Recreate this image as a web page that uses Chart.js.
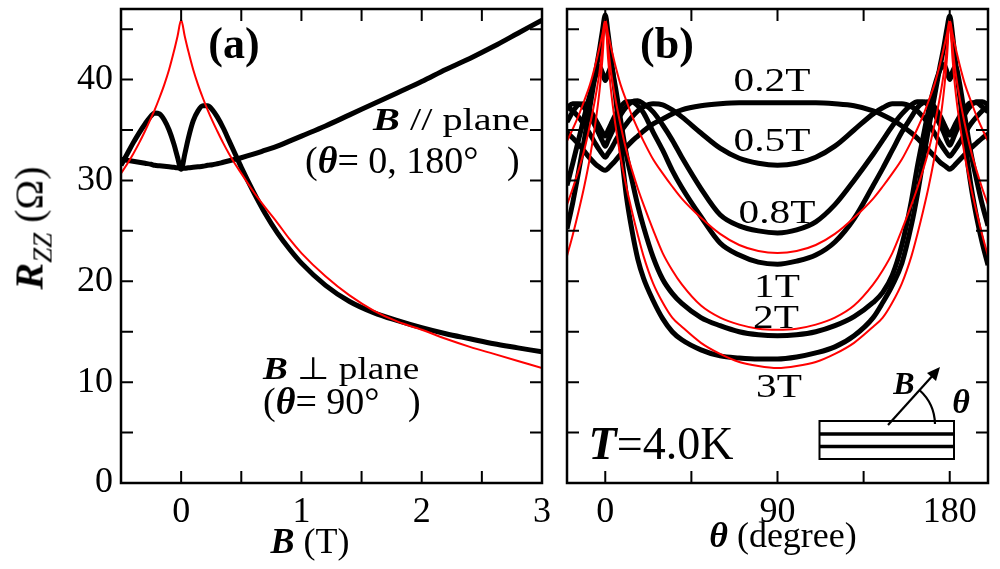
<!DOCTYPE html>
<html lang="en">
<head>
<meta charset="UTF-8">
<title>R_ZZ versus B and theta</title>
<script src="https://cdn.jsdelivr.net/npm/chart.js"></script>
<style>
  body { margin: 0; background: #fff; }
  #wrap { position: relative; width: 1000px; height: 569px; overflow: hidden;
          font-family: 'Liberation Serif', 'Times New Roman', serif; color: #000; }
  canvas { position: absolute; top: 0; }
  #chartA { left: 0; }
  #chartB { left: 555px; }
  .lbl { position: absolute; line-height: 1; white-space: pre; transform: translate(-50%, -50%); }
  .fld { position: absolute; line-height: 1; white-space: pre; font-size: 33px;
         transform: translate(-50%, -50%) scaleX(1.25); }
  .txt { position: absolute; line-height: 1; white-space: pre; transform-origin: left top; }
  .bi { font-weight: bold; font-style: italic; }
</style>
</head>
<body>
<div id="wrap">
  <canvas id="chartA" width="560" height="569"></canvas>
  <canvas id="chartB" width="445" height="569"></canvas>

  <!-- axis titles -->
  <div class="lbl" style="left:33px; top:228px; font-size:40px; transform:translate(-50%,-50%) rotate(-90deg);"><span class="bi">R</span><sub style="font-style:italic; font-size:27px;">ZZ</sub> (Ω)</div>
  <div class="lbl" style="left:310px; top:541px; font-size:36px;"><span class="bi">B</span> (T)</div>
  <div class="lbl" style="left:783px; top:535px; font-size:36px;"><span class="bi">θ</span> (degree)</div>

  <!-- panel (a) notes -->
  <div class="lbl" style="left:234px; top:44px; font-size:44px; font-weight:bold;">(a)</div>
  <div class="txt" style="left:373px; top:104px; font-size:31px; transform:scaleX(1.3);"><span class="bi">B</span> // plane</div>
  <div class="txt" style="left:305px; top:141px; font-size:38px;">(<span class="bi">θ</span>= 0, 180°   )</div>
  <div class="txt" style="left:263px; top:353px; font-size:31px; transform:scaleX(1.2);"><span class="bi">B</span> ⊥ plane</div>
  <div class="txt" style="left:263px; top:382px; font-size:38px;">(<span class="bi">θ</span>= 90°   )</div>

  <!-- panel (b) notes -->
  <div class="lbl" style="left:667px; top:44px; font-size:44px; font-weight:bold;">(b)</div>
  <div class="fld" style="left:772px; top:80px;">0.2T</div>
  <div class="fld" style="left:772px; top:140px;">0.5T</div>
  <div class="fld" style="left:777px; top:212px;">0.8T</div>
  <div class="fld" style="left:777px; top:286px;">1T</div>
  <div class="fld" style="left:776px; top:317px;">2T</div>
  <div class="fld" style="left:779px; top:386px;">3T</div>
  <div class="lbl" style="left:661px; top:444px; font-size:46px;"><span class="bi">T</span>=4.0K</div>
  <div class="lbl" style="left:904px; top:383px; font-size:32px;"><span class="bi">B</span></div>
  <div class="lbl" style="left:961px; top:402px; font-size:34px;"><span class="bi">θ</span></div>
</div>

<script>
// ---- panel (a): R_ZZ vs B ----
const bField = [-0.5,-0.45,-0.4,-0.35,-0.3,-0.25,-0.22,-0.18,-0.14,-0.1,-0.06,-0.03,0,
  0.03,0.06,0.1,0.14,0.18,0.22,0.26,0.3,0.35,0.4,0.45,0.5,0.6,0.7,0.8,0.9,1.0,
  1.2,1.4,1.6,1.8,2.0,2.2,2.4,2.6,2.8,3.0];
// B // plane (theta = 0, 180)
const rParallel = [32.1,32.0,31.9,31.8,31.7,31.6,31.5,31.45,31.4,31.35,31.3,31.25,31.2,
  31.2,31.25,31.3,31.35,31.4,31.5,31.55,31.65,31.8,31.95,32.1,32.25,32.6,33.0,33.4,33.9,34.4,
  35.4,36.5,37.6,38.7,39.8,41.0,42.1,43.3,44.6,45.9];
// B perpendicular to plane (theta = 90)
const rPerp = [31.5,32.6,33.7,34.7,35.6,36.4,36.7,36.6,36.0,35.0,33.6,32.3,31.1,
  32.6,34.2,35.9,36.9,37.4,37.4,37.0,36.3,35.2,33.9,32.6,31.3,28.9,26.7,24.8,23.2,21.8,
  19.6,18.0,16.9,16.1,15.4,14.8,14.3,13.8,13.4,13.0];
// red calculated curve
const rFitA = [30.7,31.6,32.6,33.7,34.9,36.2,37.0,38.2,39.5,41.0,42.8,44.3,45.9,
  44.3,42.8,41.0,39.5,38.2,37.0,35.9,34.9,33.7,32.6,31.6,30.7,28.9,27.3,25.8,24.2,22.8,
  20.5,18.6,17.1,16.0,15.2,14.3,13.5,12.8,12.1,11.4];

// ---- panel (b): R_ZZ vs theta ----
const theta = [-20,-17,-14,-11,-8,-5,-3,-1.5,0,1.5,3,5,8,11,14,17,20,25,30,35,40,
  50,60,70,80,90,100,110,120,130,140,145,150,155,160,163,166,169,172,175,177,178.5,
  180,181.5,183,185,188,191,194,197,200];
const r02 = [34.8,34.2,33.6,32.9,32.2,31.6,31.3,31.1,31.0,31.2,31.5,31.9,32.6,33.3,33.9,34.4,34.9,
  35.6,36.1,36.6,37.0,37.4,37.6,37.7,37.7,37.7,37.7,37.7,37.6,37.4,36.9,36.5,36.0,35.4,34.7,
  34.2,33.6,33.0,32.4,31.8,31.5,31.3,31.1,31.3,31.6,32.0,32.6,33.2,33.7,34.2,34.6];
const r05 = [37.3,36.9,36.3,35.5,34.6,33.6,33.0,32.6,32.3,32.7,33.1,33.8,34.8,35.6,36.3,36.9,37.3,
  37.6,37.5,37.0,36.3,34.7,33.2,32.2,31.7,31.5,31.7,32.3,33.4,35.0,36.6,37.2,37.6,37.6,37.3,
  36.9,36.3,35.6,34.7,33.7,33.1,32.7,32.4,32.7,33.1,33.7,34.7,35.6,36.3,36.9,37.3];
const r08 = [37.2,37.6,37.6,37.2,36.4,35.3,34.5,33.9,33.4,34.0,34.6,35.4,36.5,37.3,37.8,37.9,37.6,
  36.8,35.5,34.0,32.3,29.2,26.6,25.5,25.0,24.8,25.1,25.9,27.6,30.0,32.6,34.0,35.4,36.6,37.5,
  37.8,37.8,37.4,36.6,35.5,34.7,34.0,33.5,34.0,34.7,35.5,36.6,37.4,37.8,37.8,37.5];
const r1 = [35.8,36.8,37.5,37.6,37.0,36.0,35.3,34.8,34.4,35.0,35.6,36.4,37.3,37.8,37.8,37.4,36.7,
  34.8,33.0,31.0,29.3,26.4,23.8,22.6,21.9,21.7,22.0,22.6,23.9,26.2,29.5,31.2,33.0,34.8,36.3,
  37.2,37.7,37.8,37.3,36.4,35.6,35.0,34.5,35.0,35.6,36.3,37.2,37.7,37.7,37.3,36.8];
const r2 = [29.5,31.7,34.0,36.3,38.5,40.4,41.3,40.7,39.9,40.6,41.2,39.6,36.0,32.6,30.0,27.5,25.4,
  22.4,20.2,18.8,17.8,16.4,15.6,15.0,14.7,14.6,14.7,15.0,15.6,16.5,17.9,18.9,20.6,23.6,28.0,
  31.3,34.2,37.0,39.3,41.0,41.5,40.8,40.0,40.8,41.3,39.8,36.2,32.8,30.1,27.6,25.5];
const r3 = [25.2,27.8,30.8,34.0,37.3,40.8,43.0,44.8,46.4,44.5,42.3,39.0,33.5,28.5,25.0,22.2,20.3,
  18.1,16.3,15.0,14.2,13.2,12.6,12.4,12.3,12.3,12.5,12.9,13.5,14.6,16.4,17.9,19.6,21.8,25.6,
  28.5,31.9,35.2,38.3,41.4,43.3,45.0,46.3,44.4,41.8,38.7,33.8,29.6,26.4,23.8,21.6];
// red calculated curves for 1T, 2T, 3T
const fit1 = [33.9,35.1,36.4,37.9,39.5,41.6,43.2,44.5,45.9,44.5,43.2,41.6,39.5,37.9,36.4,35.1,33.9,
  32.1,30.7,29.4,28.2,26.3,24.7,23.6,23.0,22.8,23.0,23.6,24.7,26.3,28.2,29.4,30.7,32.1,33.9,
  35.1,36.4,37.9,39.5,41.6,43.2,44.5,45.9,44.5,43.2,41.6,39.5,37.9,36.4,35.1,33.9];
const fit2 = [27.6,29.2,31.0,33.0,35.5,38.4,40.8,43.2,45.9,43.2,40.8,38.4,35.5,33.0,31.0,29.2,27.6,
  25.1,22.8,21.1,19.7,17.6,16.4,15.7,15.3,15.2,15.3,15.7,16.4,17.6,19.7,21.1,22.8,25.1,27.6,
  29.2,31.0,33.0,35.5,38.4,40.8,43.2,45.9,43.2,40.8,38.4,35.5,33.0,31.0,29.2,27.6];
const fit3 = [22.5,24.6,26.9,29.4,32.3,35.9,38.9,42.0,45.9,42.0,38.9,35.9,32.3,29.4,26.9,24.6,22.5,
  19.8,17.9,16.4,15.5,13.9,12.8,12.0,11.6,11.4,11.6,12.0,12.8,13.9,15.5,16.4,17.9,19.8,22.5,
  24.6,26.9,29.4,32.3,35.9,38.9,42.0,45.9,42.0,38.9,35.9,32.3,29.4,26.9,24.6,22.5];

// tick labels and tick marks
const yLabels = [0, 10, 20, 30, 40];
const yMarks = [5, 10, 15, 20, 25, 30, 35, 40, 45];
const bLabels = [0, 1, 2, 3];
const bMarks = [0, 0.5, 1, 1.5, 2, 2.5];
const thetaLabels = [0, 90, 180];
const thetaMarks = [0, 45, 90, 135, 180];

Chart.defaults.font.family = "'Liberation Serif', 'Times New Roman', serif";
Chart.defaults.color = '#000';

function pts(xs, ys) {
  return xs.map((x, i) => ({ x: x, y: ys[i] }));
}
function blackLine(xs, ys) {
  return { data: pts(xs, ys), borderColor: '#000', borderWidth: 5, pointRadius: 0,
           showLine: true, cubicInterpolationMode: 'monotone', order: 2 };
}
function redLine(xs, ys) {
  return { data: pts(xs, ys), borderColor: '#ff0000', borderWidth: 2, pointRadius: 0,
           showLine: true, cubicInterpolationMode: 'monotone', order: 1 };
}
const isIn = (list, v) => list.some(t => Math.abs(t - v) < 1e-6);

// frame and inward ticks on all four sides
const framePlugin = {
  id: 'frame',
  afterDraw(chart, args, opts) {
    const { ctx, chartArea: a, scales: { x, y } } = chart;
    ctx.save();
    ctx.strokeStyle = '#000';
    ctx.lineWidth = 2;
    ctx.beginPath();
    opts.xMarks.forEach(v => {
      const px = x.getPixelForValue(v);
      ctx.moveTo(px, a.bottom); ctx.lineTo(px, a.bottom - 12);
      ctx.moveTo(px, a.top); ctx.lineTo(px, a.top + 12);
    });
    yMarks.forEach(v => {
      const py = y.getPixelForValue(v);
      ctx.moveTo(a.left, py); ctx.lineTo(a.left + 12, py);
      ctx.moveTo(a.right, py); ctx.lineTo(a.right - 12, py);
    });
    ctx.stroke();
    ctx.lineWidth = 2.5;
    ctx.strokeRect(a.left, a.top, a.right - a.left, a.bottom - a.top);
    if (opts.inset) {
      // sketch of the sample with the field direction
      ctx.lineWidth = 2;
      ctx.strokeRect(264.5, 421, 134.5, 38);
      ctx.lineWidth = 3.5;
      ctx.beginPath();
      ctx.moveTo(264.5, 434); ctx.lineTo(399, 434);
      ctx.moveTo(264.5, 446.5); ctx.lineTo(399, 446.5);
      ctx.stroke();
      ctx.lineWidth = 2.2;
      ctx.beginPath();
      ctx.moveTo(333, 425); ctx.lineTo(380, 373);
      ctx.stroke();
      ctx.beginPath();
      ctx.moveTo(385, 367); ctx.lineTo(372, 373); ctx.lineTo(381, 381);
      ctx.closePath();
      ctx.fillStyle = '#000';
      ctx.fill();
      ctx.beginPath();
      ctx.arc(333, 425, 47, -0.84, -0.02);
      ctx.stroke();
    }
    ctx.restore();
  }
};

function baseOptions(xMin, xMax, xStep, xLabelList, xMarkList, showY, yWidth, padRight, inset) {
  return {
    responsive: false,
    animation: false,
    events: [],
    layout: { padding: { left: 0, top: 9, right: padRight, bottom: 0 } },
    plugins: {
      legend: { display: false },
      tooltip: { enabled: false },
      frame: { xMarks: xMarkList, inset: inset }
    },
    scales: {
      x: {
        type: 'linear', min: xMin, max: xMax,
        grid: { display: false, drawTicks: false },
        border: { display: false },
        afterFit: s => { s.height = 86; s.paddingLeft = 0; s.paddingRight = 0; },
        ticks: {
          stepSize: xStep, includeBounds: false, autoSkip: false, maxRotation: 0,
          padding: 8, font: { size: 36 },
          callback: v => isIn(xLabelList, v) ? String(Math.round(v)) : ''
        }
      },
      y: {
        type: 'linear', min: 0, max: 47,
        grid: { display: false, drawTicks: false },
        border: { display: false },
        afterFit: s => { s.width = yWidth; s.paddingTop = 0; s.paddingBottom = 0; },
        ticks: {
          display: showY, stepSize: 5, includeBounds: false, autoSkip: false,
          padding: 8, font: { size: 36 },
          callback: v => isIn(yLabels, v) ? String(v) : ''
        }
      }
    }
  };
}

new Chart(document.getElementById('chartA'), {
  type: 'scatter',
  data: {
    datasets: [
      redLine(bField, rFitA),
      blackLine(bField, rParallel),
      blackLine(bField, rPerp)
    ]
  },
  options: baseOptions(-0.5, 3, 0.5, bLabels, bMarks, true, 121, 18, false),
  plugins: [framePlugin]
});

new Chart(document.getElementById('chartB'), {
  type: 'scatter',
  data: {
    datasets: [
      redLine(theta, fit1),
      redLine(theta, fit2),
      redLine(theta, fit3),
      blackLine(theta, r02),
      blackLine(theta, r05),
      blackLine(theta, r08),
      blackLine(theta, r1),
      blackLine(theta, r2),
      blackLine(theta, r3)
    ]
  },
  options: baseOptions(-20, 200, 45, thetaLabels, thetaMarks, false, 12, 12, true),
  plugins: [framePlugin]
});
</script>
</body>
</html>
